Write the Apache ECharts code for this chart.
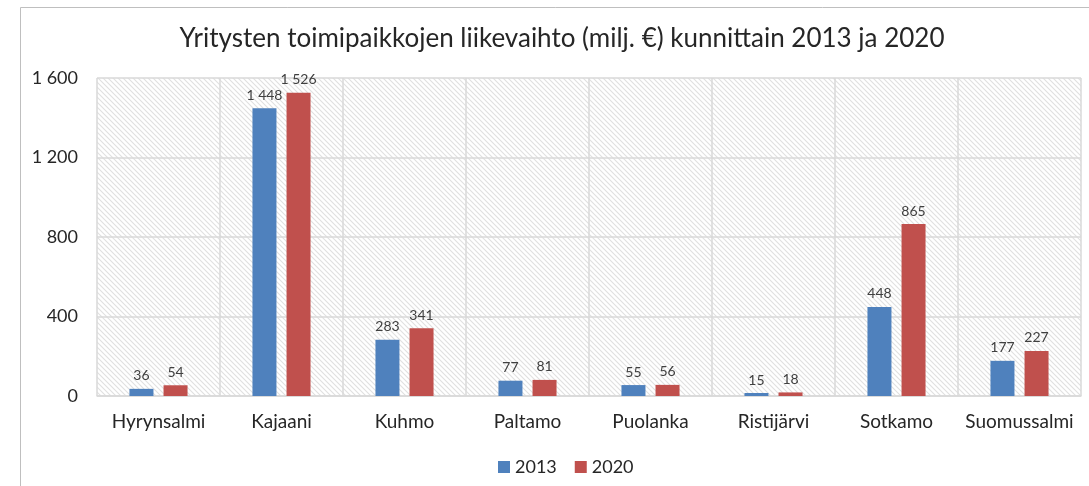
<!DOCTYPE html>
<html>
<head>
<meta charset="utf-8">
<script src="https://cdn.jsdelivr.net/npm/echarts@6/dist/echarts.min.js"></script>
<style>
  html, body { margin: 0; padding: 0; background: #fff; }
  #chart { width: 1089px; height: 486px; }
</style>
</head>
<body>
<div id="chart"></div>
<script>
var municipalities = ['Hyrynsalmi', 'Kajaani', 'Kuhmo', 'Paltamo', 'Puolanka', 'Ristijärvi', 'Sotkamo', 'Suomussalmi'];
var values2013 = [36, 1448, 283, 77, 55, 15, 448, 177];
var values2020 = [54, 1526, 341, 81, 56, 18, 865, 227];
var yTicks = [0, 400, 800, 1200, 1600];

// 1 600 style numbers
function fmt(v) {
  return String(v).replace(/\B(?=(\d{3})+(?!\d))/g, ' ');
}

// hatched background like the excel pattern fill
function makeHatch() {
  var c = document.createElement('canvas');
  c.width = 5; c.height = 5;
  var ctx = c.getContext('2d');
  ctx.fillStyle = '#ffffff';
  ctx.fillRect(0, 0, 5, 5);
  ctx.strokeStyle = '#e0e0e0';
  ctx.lineWidth = 1.1;
  ctx.beginPath();
  ctx.moveTo(0, 0); ctx.lineTo(5, 5);
  ctx.moveTo(-3, 2); ctx.lineTo(3, 8);
  ctx.moveTo(2, -3); ctx.lineTo(8, 3);
  ctx.stroke();
  return c;
}

var font = 'Lato, "Open Sans", sans-serif';
var chart = echarts.init(document.getElementById('chart'), null, { renderer: 'canvas' });

var option = {
  animation: false,
  textStyle: { fontFamily: font },
  title: {
    text: 'Yritysten toimipaikkojen liikevaihto (milj. €) kunnittain 2013 ja 2020',
    left: 557,
    top: 21,
    textAlign: 'center',
    textStyle: { fontSize: 26, fontWeight: 'normal', color: '#262626', fontFamily: font }
  },
  graphic: [{
    type: 'rect',
    shape: { x: 20.5, y: 7.5, width: 1100, height: 520 },
    style: { fill: 'none', stroke: '#bfbfbf', lineWidth: 1 },
    silent: true,
    z: -10
  }],
  legend: {
    data: ['2013', '2020'],
    left: 493,
    top: 453,
    icon: 'rect',
    itemWidth: 12,
    itemHeight: 12,
    itemGap: 18,
    textStyle: { fontSize: 18, color: '#262626' }
  },
  grid: {
    left: 97,
    right: 8,
    top: 78,
    bottom: 90,
    show: true,
    borderWidth: 0,
    backgroundColor: { image: makeHatch(), repeat: 'repeat' }
  },
  xAxis: {
    type: 'category',
    data: municipalities,
    axisLine: { lineStyle: { color: '#d9d9d9', width: 1.5 } },
    axisTick: { show: false },
    splitLine: { show: true, interval: 0, lineStyle: { color: '#d9d9d9', width: 1.5 } },
    axisLabel: { fontSize: 19, color: '#262626', margin: 16, interval: 0 }
  },
  yAxis: {
    type: 'value',
    min: 0,
    max: 1600,
    interval: 400,
    axisLine: { show: false },
    axisTick: { show: false },
    splitLine: { lineStyle: { color: '#d9d9d9', width: 1.5 } },
    axisLabel: {
      fontSize: 18,
      color: '#262626',
      margin: 19,
      formatter: function (v) { return yTicks.indexOf(v) >= 0 ? fmt(v) : ''; }
    }
  },
  series: [{
    name: '2013',
    type: 'bar',
    data: values2013,
    barWidth: 24,
    barGap: '42%',
    itemStyle: { color: '#4f81bd' },
    label: { show: true, position: 'top', distance: 6, fontSize: 14, color: '#404040', formatter: function (p) { return fmt(p.value); } }
  }, {
    name: '2020',
    type: 'bar',
    data: values2020,
    barWidth: 24,
    itemStyle: { color: '#c0504d' },
    label: { show: true, position: 'top', distance: 6, fontSize: 14, color: '#404040', formatter: function (p) { return fmt(p.value); } }
  }]
};

chart.setOption(option);
</script>
</body>
</html>
